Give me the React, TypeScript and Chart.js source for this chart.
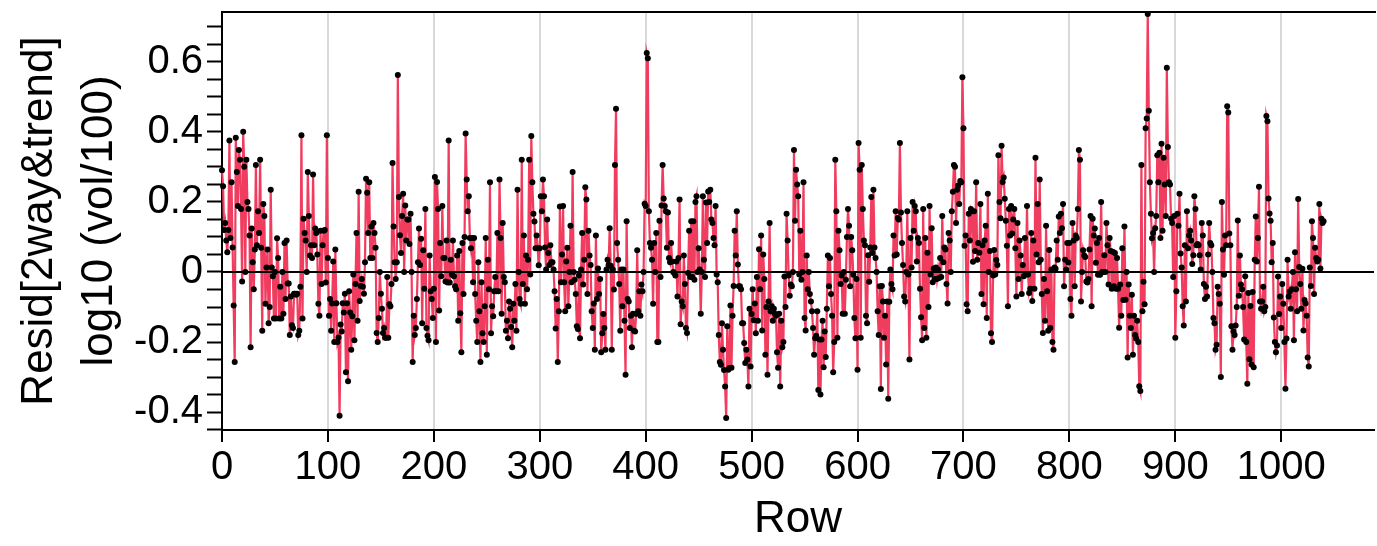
import React, { useEffect, useRef } from 'react';
import { Chart, registerables } from 'chart.js';

Chart.register(...registerables);

// Residual values by row (log10 (vol/100) residuals), rows 0..1040
const residRows000 = [
  0.29, 0.245, 0.12, 0.14, 0.09, 0.056, 0.12, 0.375, 0.097, 0.256,
  0.07, -0.096, -0.257, 0.383, 0.285, 0.188, 0.348, 0.32, 0.18, -0.027,
  0.4, 0.3, 0.0, 0.32, 0.2, 0.18, 0.104, -0.215, 0.124, 0.028,
  -0.049, 0.064, 0.305, 0.076, 0.173, 0.111, 0.32, 0.069, -0.168, 0.194,
  0.16, -0.091, 0.013, 0.064, -0.146, -0.1, 0.235, 0.013, -0.012, -0.133,
  0.0, -0.133, 0.096, 0.04, -0.133, -0.042, -0.133, 0.0, -0.119, 0.083,
  -0.077, 0.09, -0.033, -0.033, -0.18, -0.07, -0.152, -0.16, -0.062, -0.062,
  -0.065, -0.062, -0.18, -0.168, -0.042, 0.39, -0.133, 0.152, 0.111, 0.09,
  0.0, 0.285, 0.16, 0.047, 0.076, 0.04, 0.278, 0.076, 0.124, 0.111,
  0.05, -0.091, -0.125, 0.118, -0.034, 0.076, 0.118, 0.12, -0.03, 0.39,
];
const residRows100 = [
  0.04, -0.125, -0.077, -0.168, -0.09, 0.03, -0.2, 0.064, -0.089, -0.2,
  -0.187, -0.41, -0.15, -0.17, -0.089, -0.116, -0.062, -0.286, -0.089, -0.312,
  -0.055, -0.116, -0.222, -0.126, -0.007, -0.195, -0.034, 0.111, -0.139, 0.229,
  -0.083, -0.04, -0.02, -0.042, -0.062, 0.028, 0.266, 0.226, 0.111, 0.256,
  0.04, 0.13, 0.04, 0.14, 0.111, 0.069, -0.174, -0.2, -0.131, 0.0,
  -0.062, -0.105, -0.174, -0.16, -0.188, -0.188, -0.014, -0.188, -0.092, -0.098,
  -0.034, 0.311, 0.13, 0.028, -0.02, 0.028, 0.562, 0.214, 0.105, 0.054,
  0.16, 0.223, 0.0, 0.19, 0.09, 0.15, 0.15, 0.08, 0.166, 0.0,
  -0.257, -0.125, -0.18, -0.16, -0.077, 0.028, 0.124, 0.02, 0.095, -0.146,
  0.062, -0.048, 0.18, -0.16, -0.182, -0.195, 0.047, -0.055, -0.077, -0.131,
];
const residRows200 = [
  -0.048, 0.271, -0.2, 0.257, 0.18, -0.11, 0.083, -0.012, 0.188, 0.04,
  0.04, -0.027, 0.09, -0.03, 0.375, -0.03, 0.035, -0.007, 0.09, -0.012,
  -0.041, -0.049, 0.047, -0.139, 0.06, -0.118, -0.229, 0.083, -0.063, 0.1,
  0.395, 0.264, 0.173, 0.216, 0.097, 0.068, 0.097, -0.029, 0.097, -0.063,
  -0.139, -0.2, 0.028, -0.112, -0.257, -0.029, -0.175, -0.2, -0.098, 0.097,
  -0.236, 0.035, -0.049, 0.256, -0.175, -0.098, -0.126, -0.055, -0.014, -0.055,
  0.111, -0.055, 0.264, 0.097, -0.119, 0.14, -0.014, -0.029, -0.168, -0.139,
  -0.189, -0.084, -0.105, -0.157, -0.215, -0.091, -0.139, -0.034, -0.168, 0.235,
  0.0, -0.077, -0.091, 0.32, -0.034, 0.104, -0.091, 0.047, -0.049, 0.035,
  0.32, -0.007, 0.388, 0.256, 0.166, 0.144, 0.068, 0.104, 0.068, 0.019,
];
const residRows300 = [
  0.068, 0.216, 0.173, 0.264, 0.216, 0.07, 0.007, 0.15, 0.054, 0.02,
  0.076, 0.028, 0.028, 0.007, -0.055, -0.161, -0.077, -0.257, -0.112, 0.187,
  -0.029, 0.05, 0.188, -0.029, -0.112, 0.03, 0.069, -0.098, 0.0, 0.132,
  -0.029, 0.285, 0.0, -0.022, -0.063, -0.155, -0.163, -0.01, -0.189, 0.007,
  0.111, -0.036, 0.035, 0.242, 0.207, -0.063, 0.118, 0.047, 0.02, -0.112,
  -0.16, -0.09, -0.222, 0.104, -0.077, 0.01, -0.063, -0.02, -0.229, -0.175,
  -0.12, -0.16, -0.222, 0.007, 0.035, 0.02, 0.125, 0.018, -0.222, 0.007,
  -0.05, 0.305, 0.466, 0.083, 0.035, -0.034, -0.168, 0.007, -0.098, 0.007,
  -0.139, -0.293, 0.145, -0.077, -0.084, -0.16, -0.125, -0.215, -0.119, -0.168,
  -0.17, -0.119, 0.062, -0.112, -0.055, -0.125, -0.036, -0.055, 0.0, 0.195,
];
const residRows400 = [
  0.188, 0.625, 0.61, 0.173, 0.083, 0.069, 0.035, -0.091, 0.083, 0.0,
  0.111, -0.2, -0.2, 0.146, -0.014, 0.19, 0.305, 0.21, 0.188, 0.173,
  0.069, 0.17, 0.04, 0.028, 0.083, 0.03, 0.0, -0.003, -0.01, 0.03,
  -0.07, 0.04, 0.207, -0.149, -0.084, -0.098, 0.047, -0.034, -0.16, -0.174,
  -0.003, 0.118, -0.014, 0.145, -0.014, 0.145, -0.022, 0.2, 0.216, 0.0,
  0.068, 0.007, -0.119, 0.0, 0.216, 0.035, -0.014, 0.198, 0.083, 0.23,
  0.2, 0.235, 0.15, 0.14, 0.097, 0.076, 0.188, -0.007, -0.029, -0.18,
  -0.257, -0.265, -0.146, -0.222, -0.28, -0.327, -0.417, -0.155, -0.279, -0.274,
  -0.096, -0.273, -0.125, -0.04, 0.118, 0.047, 0.173, 0.021, -0.041, -0.041,
  -0.049, -0.146, -0.146, -0.203, -0.26, -0.222, -0.25, -0.327, -0.105, -0.27,
];
const residRows500 = [
  -0.12, -0.049, -0.138, -0.09, -0.175, -0.014, -0.139, 0.065, -0.049, 0.104,
  -0.167, 0.05, -0.02, -0.236, -0.1, -0.293, -0.084, 0.14, -0.112, -0.098,
  -0.139, -0.105, -0.119, -0.125, -0.229, -0.273, -0.119, -0.327, -0.139, -0.215,
  -0.2, -0.013, -0.1, 0.166, 0.09, -0.01, -0.068, -0.036, -0.041, 0.0,
  0.348, 0.146, 0.292, 0.25, 0.216, -0.007, 0.118, -0.022, 0.0, 0.256,
  -0.131, -0.167, 0.047, -0.049, 0.0, -0.063, -0.084, -0.112, -0.16, -0.236,
  -0.189, -0.182, -0.112, -0.337, -0.193, -0.35, -0.193, -0.139, -0.272, -0.17,
  -0.243, -0.105, 0.047, -0.041, 0.04, -0.063, -0.125, -0.286, -0.2, 0.32,
  0.173, -0.188, 0.118, 0.062, -0.034, -0.01, -0.119, 0.0, -0.119, -0.022,
  0.1, 0.18, 0.132, -0.041, 0.1, 0.062, -0.008, -0.131, -0.189, -0.02,
];
const residRows600 = [
  -0.279, 0.368, 0.292, -0.188, 0.305, 0.18, 0.09, 0.076, -0.125, -0.146,
  0.048, -0.028, 0.07, 0.214, 0.054, 0.235, 0.07, 0.04, 0.0, -0.112,
  -0.18, -0.041, -0.334, -0.04, -0.084, -0.188, -0.125, -0.264, -0.084, -0.362,
  -0.085, 0.007, -0.034, -0.049, 0.104, 0.047, 0.173, 0.05, 0.154, 0.15,
  0.368, 0.17, 0.083, 0.02, -0.07, -0.084, 0.0, 0.173, -0.007, -0.25,
  0.097, 0.013, 0.2, 0.118, 0.188, 0.173, 0.03, 0.097, 0.083, -0.048,
  -0.129, -0.195, 0.18, -0.16, 0.097, -0.188, 0.055, -0.1, 0.188, -0.007,
  0.125, -0.029, 0.01, -0.02, 0.013, -0.02, 0.007, -0.017, 0.04, -0.014,
  0.16, 0.028, 0.07, 0.064, -0.034, -0.09, 0.111, 0.09, 0.0, 0.173,
  0.229, 0.305, 0.3, 0.14, 0.235, 0.247, 0.194, 0.26, 0.256, 0.556,
];
const residRows700 = [
  0.41, 0.075, 0.104, -0.092, -0.112, 0.166, 0.09, 0.18, 0.173, 0.029,
  0.173, 0.06, 0.256, 0.035, 0.083, 0.055, 0.194, -0.063, 0.076, -0.092,
  0.09, 0.132, -0.131, 0.223, 0.0, 0.06, -0.175, -0.2, -0.01, 0.063,
  -0.007, 0.034, 0.02, 0.333, 0.2, 0.153, 0.36, 0.257, 0.27, 0.209,
  0.146, 0.075, -0.098, 0.18, 0.104, 0.188, 0.11, 0.15, 0.18, 0.068,
  -0.07, 0.14, -0.02, 0.09, 0.047, -0.063, 0.02, -0.012, 0.097, -0.007,
  0.188, -0.007, -0.06, -0.048, 0.111, -0.083, 0.09, -0.048, 0.326, 0.05,
  0.194, 0.028, 0.264, 0.035, -0.063, -0.174, -0.02, -0.139, 0.132, -0.055,
  -0.168, 0.063, -0.16, 0.007, -0.2, -0.222, 0.013, 0.009, 0.09, 0.035,
  0.158, 0.111, 0.166, 0.125, 0.194, -0.041, 0.035, 0.007, 0.083, 0.027,
];
const residRows800 = [
  0.083, -0.077, -0.125, 0.14, 0.09, -0.041, 0.104, 0.097, 0.18, 0.348,
  0.32, -0.084, 0.0, 0.062, 0.047, 0.043, -0.027, -0.03, -0.02, 0.064,
  0.16, -0.098, 0.152, 0.104, 0.124, 0.026, 0.083, -0.008, 0.097, -0.008,
  0.2, 0.0, 0.0, 0.048, 0.0, 0.14, 0.076, -0.036, 0.097, 0.06,
  -0.048, 0.058, -0.041, 0.054, -0.048, 0.04, -0.048, -0.159, -0.036, -0.125,
  0.068, -0.08, 0.13, -0.079, 0.0, -0.244, -0.036, -0.125, -0.16, -0.065,
  -0.236, -0.125, -0.18, -0.19, -0.139, -0.2, -0.326, -0.34, 0.305, -0.112,
  -0.028, -0.092, 0.41, 0.438, 0.736, 0.46, 0.256, 0.166, 0.096, 0.111,
  0.0, 0.125, 0.16, 0.333, 0.256, 0.34, 0.097, 0.366, 0.118, 0.326,
  0.25, 0.16, 0.583, 0.357, 0.256, 0.25, 0.152, 0.14, -0.014, 0.16,
];
const residRows900 = [
  -0.188, -0.055, 0.166, 0.132, 0.223, 0.053, 0.013, -0.098, -0.153, 0.076,
  -0.084, 0.173, 0.068, 0.104, 0.118, 0.09, 0.023, 0.048, 0.216, 0.18,
  0.076, 0.08, 0.076, 0.048, 0.007, 0.14, 0.104, -0.034, -0.077, -0.042,
  -0.07, 0.05, 0.14, 0.083, 0.076, 0.0, -0.131, -0.146, -0.222, -0.208,
  -0.042, -0.063, -0.091, -0.3, 0.2, 0.064, -0.008, 0.104, 0.076, 0.473,
  0.455, 0.11, 0.076, -0.155, -0.222, -0.17, -0.18, -0.153, -0.1, 0.147,
  -0.068, 0.047, -0.036, -0.049, -0.1, -0.193, -0.012, -0.2, -0.319, -0.06,
  -0.249, -0.097, -0.264, -0.057, -0.272, 0.035, 0.158, 0.03, 0.097, 0.243,
  -0.084, -0.105, -0.084, -0.042, -0.112, -0.1, 0.445, 0.43, 0.21, 0.167,
  0.146, 0.028, 0.083, -0.13, -0.2, -0.229, -0.21, -0.013, -0.12, -0.07,
];
const residRows1000 = [
  -0.16, -0.034, -0.091, -0.2, -0.333, -0.19, 0.035, -0.07, -0.056, -0.105,
  -0.049, 0.0, -0.195, 0.056, -0.049, -0.112, 0.208, 0.014, -0.034, -0.105,
  0.009, -0.167, -0.08, -0.09, -0.125, -0.244, -0.27, 0.013, -0.04, 0.145,
  0.097, -0.063, 0.069, 0.04, 0.03, 0.035, 0.194, 0.01, 0.152, 0.14, 0.145,
];

const residSegments = [
  residRows000, residRows100, residRows200, residRows300, residRows400,
  residRows500, residRows600, residRows700, residRows800, residRows900, residRows1000,
];

const xAxisTitle = 'Row';
const yAxisTitle = ['Resid[2way&trend]', 'log10 (vol/100)'];
const xTickStep = 100;
const yMajorStep = 0.2;
const yMinorStep = 0.05;

const FONT = '"Liberation Sans", Arial, sans-serif';

const framePlugin = {
  id: 'frameLines',
  afterDatasetsDraw(chart: any) {
    const { ctx, chartArea, scales } = chart;
    const y0 = scales.y.getPixelForValue(0);
    ctx.save();
    ctx.strokeStyle = '#000';
    ctx.lineWidth = 2;
    ctx.beginPath();
    ctx.moveTo(chartArea.left, y0);
    ctx.lineTo(chartArea.right, y0);
    ctx.stroke();
    ctx.beginPath();
    ctx.moveTo(chartArea.left, chartArea.top);
    ctx.lineTo(chartArea.right + 2, chartArea.top);
    ctx.stroke();
    ctx.restore();
  },
};

export default function App() {
  const ref = useRef<HTMLCanvasElement>(null);

  useEffect(() => {
    const points: { x: number; y: number }[] = [];
    let row = 0;
    residSegments.forEach((seg) => {
      seg.forEach((v) => {
        points.push({ x: row, y: v });
        row += 1;
      });
    });

    const chart = new Chart(ref.current as HTMLCanvasElement, {
      type: 'line',
      data: {
        datasets: [
          {
            data: points,
            borderColor: '#f03c5e',
            borderWidth: 2.2,
            pointRadius: 3,
            pointBackgroundColor: '#000',
            pointBorderWidth: 0,
            pointHoverRadius: 3,
            tension: 0,
            clip: false as any,
          },
        ],
      },
      options: {
        animation: false,
        responsive: false,
        events: [],
        layout: { padding: { top: 12, right: 0, left: 0, bottom: 0 } },
        plugins: { legend: { display: false }, tooltip: { enabled: false } },
        scales: {
          x: {
            type: 'linear',
            min: 0,
            max: 1087.6,
            afterFit(scale: any) {
              scale.height = 116;
              scale.paddingLeft = 0;
              scale.paddingRight = 0;
            },
            border: { color: '#000', width: 2 },
            grid: {
              color: (c: any) => (c.tick && Math.abs(c.tick.value) < 1e-9 ? 'rgba(0,0,0,0)' : '#d9d9d9'),
              lineWidth: 2,
              drawTicks: true,
              tickLength: 12,
              tickColor: '#000',
              tickWidth: 2,
            },
            ticks: {
              stepSize: xTickStep,
              includeBounds: false,
              autoSkip: false,
              maxRotation: 0,
              padding: 2,
              color: '#000',
              font: { family: FONT, size: 40 },
              callback: (v: any) => String(v),
            },
            title: {
              display: true,
              text: xAxisTitle,
              color: '#000',
              font: { family: FONT, size: 44 },
              padding: { top: 0, bottom: 0 },
            },
          },
          y: {
            type: 'linear',
            min: -0.451,
            max: 0.742,
            afterFit(scale: any) {
              scale.width = 222;
              scale.paddingTop = 0;
              scale.paddingBottom = 0;
            },
            border: { color: '#000', width: 2 },
            grid: {
              drawOnChartArea: false,
              drawTicks: true,
              tickLength: 15,
              tickColor: '#000',
              tickWidth: 2,
            },
            ticks: {
              stepSize: yMinorStep,
              includeBounds: false,
              autoSkip: false,
              padding: 4,
              color: '#000',
              font: { family: FONT, size: 40 },
              callback: (v: any) => {
                const r = v / yMajorStep;
                if (Math.abs(r - Math.round(r)) < 1e-6) {
                  return String(Number(Number(v).toFixed(1)));
                }
                return '';
              },
            },
            title: {
              display: true,
              text: yAxisTitle,
              color: '#000',
              font: { family: FONT, size: 44, lineHeight: '60px' as any },
              padding: { top: 10, bottom: 0 },
            },
          },
        },
      },
      plugins: [framePlugin],
    });

    return () => chart.destroy();
  }, []);

  return (
    <div style={{ position: 'fixed', left: 0, top: 0, width: 1377, height: 546, background: '#fff' }}>
      <canvas ref={ref} width={1377} height={546} style={{ display: 'block' }} />
    </div>
  );
}
